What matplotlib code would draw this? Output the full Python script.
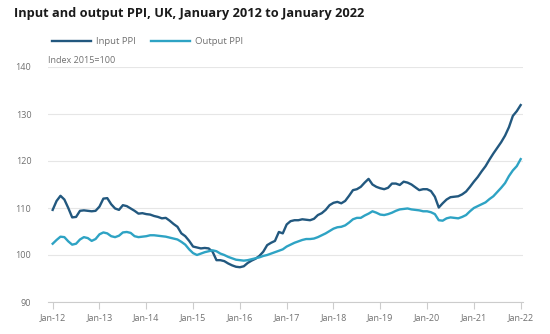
"""
Input and output PPI, UK, January 2012 to January 2022
"""

import numpy as np
import matplotlib.pyplot as plt

# monthly index values, Jan 2012 .. Jan 2022 (2015=100)
input_ppi = [
    109.6, 111.5, 112.6, 111.8, 110.0, 108.0, 108.1, 109.4, 109.5, 109.4, 109.3, 109.4,
    110.3, 112.0, 112.1, 110.8, 109.9, 109.6, 110.6, 110.4, 109.9, 109.4, 108.8, 108.9,
    108.7, 108.6, 108.3, 108.1, 107.8, 107.9, 107.3, 106.6, 106.0, 104.6, 104.0, 103.0,
    101.8, 101.6, 101.4, 101.5, 101.4, 100.7, 98.9, 98.9, 98.7, 98.2, 97.8, 97.5,
    97.4, 97.6, 98.3, 98.8, 99.2, 99.8, 100.7, 102.1, 102.6, 103.0, 104.9, 104.6,
    106.5, 107.2, 107.4, 107.4, 107.6, 107.5, 107.4, 107.7, 108.5, 108.9, 109.6, 110.6,
    111.1, 111.3, 111.0, 111.5, 112.6, 113.8, 114.0, 114.5, 115.4, 116.2, 115.0, 114.5,
    114.2, 114.0, 114.3, 115.2, 115.2, 114.9, 115.6, 115.4, 115.0, 114.4, 113.8, 114.0,
    114.0, 113.6, 112.4, 110.1, 111.0, 111.8, 112.3, 112.4, 112.5, 112.9, 113.5, 114.5,
    115.6, 116.6, 117.8, 118.9, 120.3, 121.6, 122.8, 124.0, 125.4, 127.2, 129.6, 130.6,
    131.9,
]
output_ppi = [
    102.4, 103.2, 103.9, 103.8, 102.9, 102.2, 102.4, 103.3, 103.8, 103.6, 103.0, 103.4,
    104.4, 104.8, 104.6, 104.0, 103.8, 104.1, 104.8, 104.9, 104.7, 104.0, 103.8, 103.9,
    104.0, 104.2, 104.2, 104.1, 104.0, 103.9, 103.7, 103.5, 103.3, 102.8, 102.2, 101.2,
    100.4, 100.0, 100.3, 100.6, 100.8, 101.0, 100.8, 100.3, 100.0, 99.6, 99.3, 99.0,
    98.9, 98.8, 98.9, 99.1, 99.3, 99.5, 99.8, 100.0, 100.3, 100.6, 100.9, 101.2,
    101.8, 102.2, 102.6, 102.9, 103.2, 103.4, 103.4, 103.5, 103.8, 104.2, 104.6, 105.1,
    105.6, 105.9, 106.0, 106.3, 106.9, 107.6, 107.9, 107.9, 108.4, 108.8, 109.3, 109.0,
    108.6, 108.5, 108.7, 109.0, 109.4, 109.7, 109.8, 109.9, 109.7, 109.6, 109.5, 109.3,
    109.3, 109.1, 108.7, 107.4, 107.3, 107.8, 108.0, 107.9, 107.8, 108.1, 108.5, 109.3,
    110.0, 110.4, 110.8, 111.2, 111.9, 112.5, 113.4, 114.3, 115.3, 116.8, 118.0, 118.9,
    120.4,
]
years = ["12", "13", "14", "15", "16", "17", "18", "19", "20", "21", "22"]
tick_labels = ["Jan-" + y for y in years]
y_ticks = [90, 100, 110, 120, 130, 140]

plt.rcParams['font.family'] = ['Open Sans', 'DejaVu Sans']

months = np.arange(len(input_ppi))

fig = plt.figure(figsize=(5.5, 3.34), dpi=100)
ax = fig.add_axes([48 / 550, 1 - 302 / 334, 475 / 550, 235 / 334])

ax.plot(months, input_ppi, color='#22587f', lw=1.7, label='Input PPI')
ax.plot(months, output_ppi, color='#2ea3c4', lw=1.7, label='Output PPI')

ax.set_xlim(-1.2, 120.6)
ax.set_ylim(90, 140)
ax.set_xticks(np.arange(0, 121, 12))
ax.set_xticklabels(tick_labels)
ax.set_yticks(y_ticks)

for s in ['top', 'right', 'left']:
    ax.spines[s].set_visible(False)
ax.spines['bottom'].set_color('#cccccc')
ax.tick_params(axis='x', colors='#cccccc', length=5, labelcolor='#707070',
               labelsize=6.5, pad=3)
ax.tick_params(axis='y', length=0, labelcolor='#707070', labelsize=6.5, pad=12)
ax.yaxis.grid(True, color='#e6e6e6', lw=0.8)
ax.set_axisbelow(True)

fig.text(14 / 550, 1 - 14 / 334, "Input and output PPI, UK, January 2012 to January 2022",
         fontsize=9.2, fontweight='bold', color='#1a1a1a', va='center')
ax.text(0, 1.01, "Index 2015=100", transform=ax.transAxes, fontsize=6.5,
        color='#707070', va='bottom', ha='left')

fig.legend(loc='center left', bbox_to_anchor=(43 / 550, 1 - 42 / 334), ncol=2,
           frameon=False, fontsize=6.8, handlelength=4.2, columnspacing=1.6,
           labelcolor='#707070', handletextpad=0.5)

fig.savefig('out.png', dpi=100)
